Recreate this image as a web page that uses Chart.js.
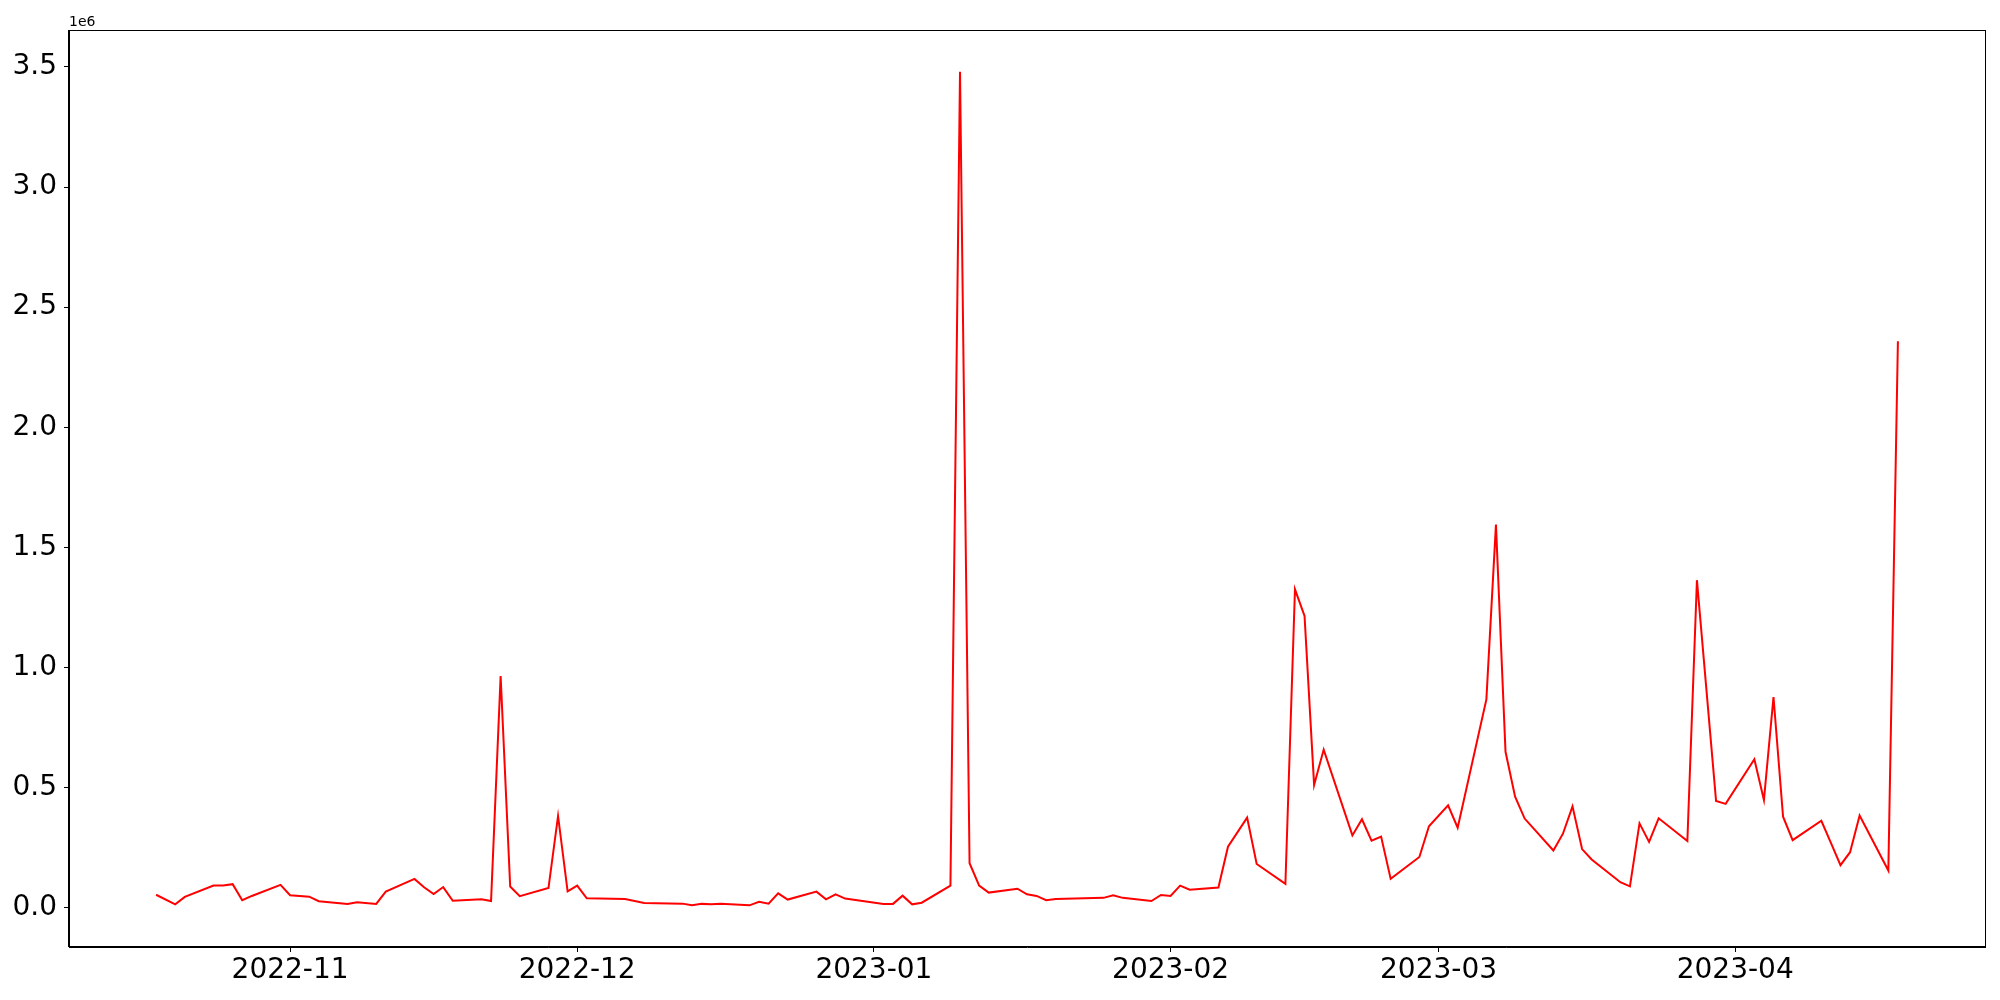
<!DOCTYPE html>
<html>
<head>
<meta charset="utf-8">
<script src="https://cdn.jsdelivr.net/npm/chart.js@4/dist/chart.umd.min.js"></script>
<style>
  body { margin: 0; background: #fff; }
  #wrap { width: 2000px; height: 1000px; }
</style>
</head>
<body>
<div id="wrap"><canvas id="chart1" width="2000" height="1000"></canvas></div>
<script>
const dates = [
  '2022-10-18', '2022-10-20', '2022-10-21', '2022-10-24', '2022-10-25', '2022-10-26', '2022-10-27', '2022-10-28',
  '2022-10-31', '2022-11-01', '2022-11-03', '2022-11-04', '2022-11-07', '2022-11-08', '2022-11-10', '2022-11-11',
  '2022-11-14', '2022-11-15', '2022-11-16', '2022-11-17', '2022-11-18', '2022-11-21', '2022-11-22', '2022-11-23',
  '2022-11-24', '2022-11-25', '2022-11-28', '2022-11-29', '2022-11-30', '2022-12-01', '2022-12-02', '2022-12-06',
  '2022-12-08', '2022-12-12', '2022-12-13', '2022-12-14', '2022-12-15', '2022-12-16', '2022-12-19', '2022-12-20',
  '2022-12-21', '2022-12-22', '2022-12-23', '2022-12-26', '2022-12-27', '2022-12-28', '2022-12-29', '2023-01-02',
  '2023-01-03', '2023-01-04', '2023-01-05', '2023-01-06', '2023-01-09', '2023-01-10', '2023-01-11', '2023-01-12',
  '2023-01-13', '2023-01-16', '2023-01-17', '2023-01-18', '2023-01-19', '2023-01-20', '2023-01-25', '2023-01-26',
  '2023-01-27', '2023-01-30', '2023-01-31', '2023-02-01', '2023-02-02', '2023-02-03', '2023-02-06', '2023-02-07',
  '2023-02-09', '2023-02-10', '2023-02-13', '2023-02-14', '2023-02-15', '2023-02-16', '2023-02-17', '2023-02-20',
  '2023-02-21', '2023-02-22', '2023-02-23', '2023-02-24', '2023-02-27', '2023-02-28', '2023-03-02', '2023-03-03',
  '2023-03-06', '2023-03-07', '2023-03-08', '2023-03-09', '2023-03-10', '2023-03-13', '2023-03-14', '2023-03-15',
  '2023-03-16', '2023-03-17', '2023-03-20', '2023-03-21', '2023-03-22', '2023-03-23', '2023-03-24', '2023-03-27',
  '2023-03-28', '2023-03-30', '2023-03-31', '2023-04-03', '2023-04-04', '2023-04-05', '2023-04-06', '2023-04-07',
  '2023-04-10', '2023-04-11', '2023-04-12', '2023-04-13', '2023-04-14', '2023-04-17', '2023-04-18'
];

const values = [
  55000, 15000, 46000, 93000, 93000, 99000, 32000, 50000,
  96000, 53000, 47000, 28000, 17000, 24000, 17000, 68000,
  121000, 86000, 58000, 87000, 30000, 36000, 29000, 965000,
  89000, 49000, 83000, 383000, 69000, 93000, 40000, 37000,
  21000, 18000, 11000, 17000, 15000, 18000, 11000, 26000,
  18000, 61000, 35000, 68000, 36000, 57000, 39000, 17000,
  17000, 51000, 15000, 22000, 93000, 3480000, 186000, 93000,
  64000, 80000, 57000, 50000, 32000, 37000, 42000, 53000,
  42000, 29000, 54000, 50000, 93000, 76000, 85000, 255000,
  376000, 183000, 100000, 1326000, 1215000, 512000, 659000, 302000,
  369000, 280000, 297000, 121000, 212000, 340000, 427000, 334000,
  868000, 1595000, 650000, 463000, 372000, 239000, 309000, 423000,
  245000, 202000, 107000, 90000, 352000, 275000, 373000, 279000,
  1364000, 445000, 433000, 619000, 449000, 878000, 380000, 282000,
  363000, 271000, 178000, 232000, 385000, 156000, 2358000
];

const monthTicks = ['2022-11', '2022-12', '2023-01', '2023-02', '2023-03', '2023-04'];
const yTicks = [0, 500000, 1000000, 1500000, 2000000, 2500000, 3000000, 3500000];
const offsetText = '1e6';

function dayNum(s) {
  const p = s.split('-').map(Number);
  return Date.UTC(p[0], p[1] - 1, p[2] || 1) / 86400000;
}

const points = dates.map((d, i) => ({ x: dayNum(d), y: values[i] }));

// matplotlib style 5% margins
const xLo = points[0].x, xHi = points[points.length - 1].x;
const yLo = Math.min(...values), yHi = Math.max(...values);
const xPad = (xHi - xLo) * 0.05, yPad = (yHi - yLo) * 0.05;

const font = { family: 'DejaVu Sans', size: 28 };

const frame = {
  id: 'frame',
  afterDraw(chart) {
    const { ctx, chartArea: a } = chart;
    ctx.save();
    ctx.strokeStyle = '#000';
    ctx.lineWidth = 1;
    ctx.strokeRect(Math.round(a.left) - 0.5, Math.round(a.top) + 0.5, Math.round(a.right - a.left) + 1, Math.round(a.bottom - a.top) - 1);
    ctx.fillStyle = '#000';
    ctx.font = '14px "DejaVu Sans"';
    ctx.textBaseline = 'alphabetic';
    ctx.fillText(offsetText, a.left, a.top - 4);
    ctx.restore();
  }
};

const ctx = document.getElementById('chart1').getContext('2d');
new Chart(ctx, {
  type: 'line',
  data: {
    datasets: [{
      data: points,
      borderColor: '#ff0000',
      borderWidth: 2,
      pointRadius: 0,
      tension: 0,
      fill: false
    }]
  },
  options: {
    responsive: false,
    animation: false,
    layout: { padding: { top: 30, right: 15, left: 0, bottom: 0 } },
    plugins: { legend: { display: false }, tooltip: { enabled: false } },
    scales: {
      x: {
        type: 'linear',
        min: xLo - xPad,
        max: xHi + xPad,
        afterBuildTicks: (scale) => {
          scale.ticks = monthTicks.map(m => ({ value: dayNum(m + '-01') }));
        },
        afterFit: (scale) => { scale.height = 53; },
        ticks: {
          autoSkip: false,
          maxRotation: 0,
          color: '#000',
          font: font,
          padding: 2,
          callback: (v, i) => monthTicks[i]
        },
        grid: { display: true, drawOnChartArea: false, drawTicks: true, tickLength: 5, tickColor: '#000' },
        border: { display: true, color: '#000', width: 1 }
      },
      y: {
        type: 'linear',
        min: yLo - yPad,
        max: yHi + yPad,
        afterBuildTicks: (scale) => {
          scale.ticks = yTicks.map(v => ({ value: v }));
        },
        afterFit: (scale) => { scale.width = 69; },
        ticks: {
          color: '#000',
          font: font,
          padding: 7,
          callback: (v) => (v / 1e6).toFixed(1)
        },
        grid: { display: true, drawOnChartArea: false, drawTicks: true, tickLength: 5, tickColor: '#000' },
        border: { display: true, color: '#000', width: 1 }
      }
    }
  },
  plugins: [frame]
});
</script>
</body>
</html>
